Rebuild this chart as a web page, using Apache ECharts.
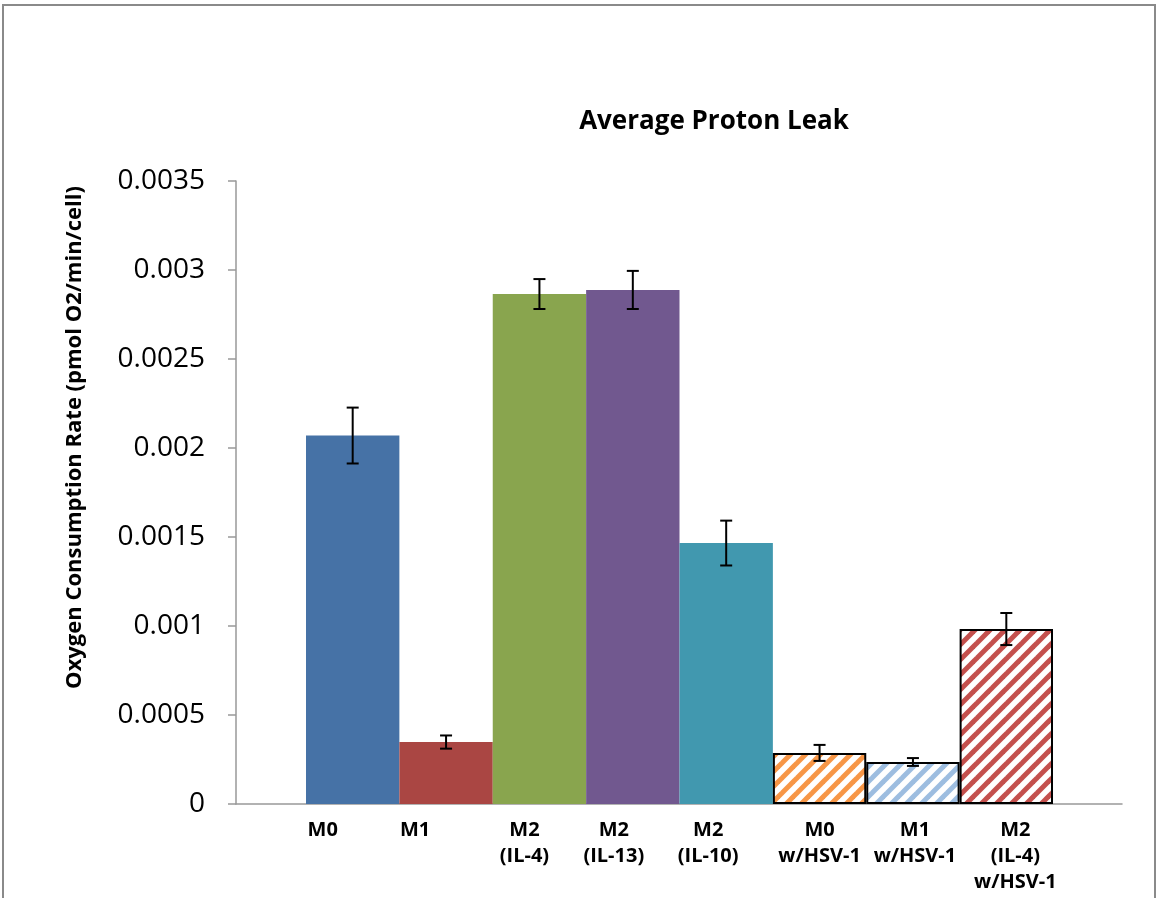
<!DOCTYPE html>
<html>
<head>
<meta charset="utf-8">
<script src="https://cdn.jsdelivr.net/npm/echarts@6/dist/echarts.min.js"></script>
<style>
html,body{margin:0;padding:0;background:#fff;}
#chart{width:1158px;height:898px;}
</style>
</head>
<body>
<div id="chart"></div>
<script>
// ---- data ----
const categories = ['M0', 'M1', 'M2\n(IL-4)', 'M2\n(IL-13)', 'M2\n(IL-10)', 'M0\nw/HSV-1', 'M1\nw/HSV-1', 'M2\n(IL-4)\nw/HSV-1'];
const values = [0.00207, 0.000348, 0.002865, 0.002888, 0.001466, 0.000287, 0.000236, 0.000983];
const errors = [0.000157, 0.000037, 0.000084, 0.000107, 0.000126, 0.000045, 0.000022, 0.00009];
const yTicks = [0, 0.0005, 0.001, 0.0015, 0.002, 0.0025, 0.003, 0.0035];

// ---- style ----
const solidColors = ['#4672A6', '#AA4643', '#89A54E', '#71588F', '#4198AF'];
const hatchColors = { 5: '#F79646', 6: '#9DBDE0', 7: '#C4504D' };
const labelShift = [-30, -31, -15, -19, -18, 0, 2, 9];
const FONT = '"Open Sans", "Liberation Sans", sans-serif';

function hatch(color) {
  const s = 15;
  const c = document.createElement('canvas');
  c.width = s; c.height = s;
  const ctx = c.getContext('2d');
  ctx.fillStyle = '#fff';
  ctx.fillRect(0, 0, s, s);
  ctx.strokeStyle = color;
  ctx.lineWidth = 5;
  ctx.lineCap = 'square';
  for (const o of [-s, 0, s]) {
    ctx.beginPath();
    ctx.moveTo(o, s);
    ctx.lineTo(o + s, 0);
    ctx.stroke();
  }
  return { image: c, repeat: 'repeat' };
}

const barData = values.map((v, i) => {
  if (hatchColors[i]) {
    return { value: v, itemStyle: { color: hatch(hatchColors[i]), borderColor: '#000', borderWidth: 2 } };
  }
  return { value: v, itemStyle: { color: solidColors[i] } };
});
const errData = values.map((v, i) => [i, v - errors[i], v + errors[i]]);

const rich = {};
labelShift.forEach((s, i) => {
  rich['s' + i] = {
    fontFamily: FONT, fontWeight: 'bold', fontSize: 20, color: '#000', lineHeight: 26,
    padding: s < 0 ? [0, -2 * s, 0, 0] : [0, 0, 0, 2 * s]
  };
});

const chart = echarts.init(document.getElementById('chart'), null, { renderer: 'canvas' });
const axisGrey = '#999999';
chart.setOption({
  animation: false,
  backgroundColor: '#fff',
  title: {
    text: 'Average Proton Leak',
    left: 709, top: 104, textAlign: 'center',
    textStyle: { fontFamily: FONT, fontWeight: 'bold', fontSize: 26, color: '#000' }
  },
  graphic: [{
    type: 'rect', shape: { x: 3, y: 5, width: 1152, height: 1000 },
    style: { fill: 'none', stroke: '#8a8a8a', lineWidth: 2 }, silent: true, z: -1
  }],
  grid: [
    { left: 236, right: 36, top: 181, bottom: 94 },
    { left: 306, right: 105, top: 181, bottom: 94 }
  ],
  xAxis: [
    {
      gridIndex: 0, type: 'value', min: 0, max: 1,
      axisLine: { show: true, lineStyle: { color: axisGrey, width: 1.5 } },
      axisTick: { show: false }, axisLabel: { show: false }, splitLine: { show: false }
    },
    {
      gridIndex: 1, type: 'category', data: categories,
      axisLine: { show: false }, axisTick: { show: false },
      axisLabel: {
        interval: 0, margin: 13,
        formatter: (val, idx) => val.split('\n').map(l => '{s' + idx + '|' + l + '}').join('\n'),
        rich: rich
      }
    }
  ],
  yAxis: [
    {
      gridIndex: 0, type: 'value', min: 0, max: 0.0035, interval: 0.0005,
      axisLine: { show: true, lineStyle: { color: axisGrey, width: 1.5 } },
      axisTick: { show: true, inside: false, length: 8, lineStyle: { color: axisGrey, width: 1.5 } },
      splitLine: { show: false },
      axisLabel: {
        margin: 31, fontFamily: FONT, fontSize: 28, color: '#000',
        formatter: v => { const t = yTicks.find(x => Math.abs(x - v) < 1e-9); return String(t); }
      },
      name: 'Oxygen Consumption Rate (pmol O2/min/cell)',
      nameLocation: 'middle', nameGap: 150, nameRotate: 90,
      nameTextStyle: { fontFamily: FONT, fontWeight: 'bold', fontSize: 22, color: '#000', padding: [0, 0, 0, 110] }
    },
    {
      gridIndex: 1, type: 'value', min: 0, max: 0.0035, interval: 0.0005, show: false,
      splitLine: { show: false }
    }
  ],
  series: [
    {
      type: 'bar', xAxisIndex: 1, yAxisIndex: 1, data: barData,
      barWidth: '100%', barGap: '0%', barCategoryGap: '0%', z: 2
    },
    {
      type: 'custom', xAxisIndex: 1, yAxisIndex: 1, data: errData, z: 5,
      encode: { x: 0, y: [1, 2] },
      renderItem: (params, api) => {
        const lo = api.coord([api.value(0), api.value(1)]);
        const hi = api.coord([api.value(0), api.value(2)]);
        const w = 6;
        const st = { stroke: '#000', lineWidth: 2 };
        return {
          type: 'group', children: [
            { type: 'line', shape: { x1: hi[0], y1: hi[1], x2: lo[0], y2: lo[1] }, style: st },
            { type: 'line', shape: { x1: hi[0] - w, y1: hi[1], x2: hi[0] + w, y2: hi[1] }, style: st },
            { type: 'line', shape: { x1: lo[0] - w, y1: lo[1], x2: lo[0] + w, y2: lo[1] }, style: st }
          ]
        };
      }
    }
  ]
});
</script>
</body>
</html>
